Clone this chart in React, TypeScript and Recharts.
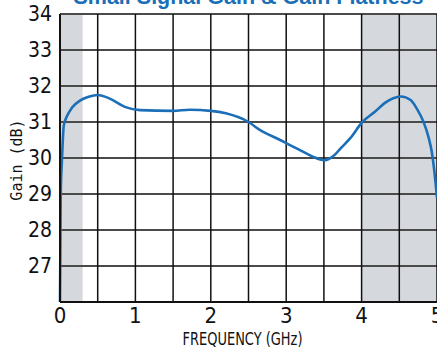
import { LineChart, Line, XAxis, YAxis, CartesianGrid, ReferenceArea, Label } from "recharts";

const freqGHz = [0, 0.01, 0.027, 0.05, 0.09, 0.16, 0.27, 0.38, 0.5, 0.66, 0.86, 1.06, 1.5, 1.72, 2.0, 2.2, 2.5, 2.65, 2.92, 3.05, 3.2, 3.36, 3.45, 3.51, 3.57, 3.65, 3.71, 3.85, 4.01, 4.18, 4.31, 4.42, 4.52, 4.65, 4.73, 4.82, 4.89, 4.93, 4.96, 5.0];
const gainDb = [26, 29, 30, 30.9, 31.15, 31.4, 31.6, 31.7, 31.75, 31.65, 31.42, 31.33, 31.31, 31.34, 31.31, 31.24, 31.0, 30.78, 30.5, 30.36, 30.2, 30.03, 29.96, 29.94, 29.98, 30.1, 30.24, 30.55, 31.0, 31.29, 31.53, 31.66, 31.71, 31.61, 31.38, 31.01, 30.56, 30.18, 29.72, 28.9];

const xTicks = [0, 0.5, 1, 1.5, 2, 2.5, 3, 3.5, 4, 4.5, 5];
const yTicks = [26, 27, 28, 29, 30, 31, 32, 33, 34];
const shadedBands = [
  { from: 0, to: 0.3 },
  { from: 4, to: 5 },
];

const TITLE = "Small Signal Gain & Gain Flatness";
const BLUE = "#1b6fb8";
const NARROW = "'Liberation Sans Narrow', 'DejaVu Sans Condensed', 'Liberation Sans', sans-serif";

const data = freqGHz.map((f, i) => ({ f, gain: gainDb[i] }));

export default function App() {
  return (
    <div style={{ position: "fixed", left: 0, top: 0, width: 437, height: 349, overflow: "hidden", background: "#fff" }}>
      <div
        style={{
          position: "absolute",
          left: 60,
          width: 377,
          top: -13,
          textAlign: "center",
          fontFamily: "'Liberation Sans', Arial, sans-serif",
          fontWeight: "bold",
          fontSize: 21.5,
          lineHeight: "1",
          color: BLUE,
          whiteSpace: "nowrap",
        }}
      >
        {TITLE}
      </div>
      <div style={{ position: "absolute", left: 0, top: 0 }}>
        <LineChart width={460} height={349} data={data} margin={{ top: 14, right: 23, bottom: 0, left: 0 }}>
          {shadedBands.map((b) => (
            <ReferenceArea key={b.from} x1={b.from} x2={b.to} fill="#d5d8dc" fillOpacity={1} stroke="none" zIndex={-200} />
          ))}
          <CartesianGrid vertical={false} stroke="#4a4a4a" strokeWidth={2} />
          <CartesianGrid horizontal={false} stroke="#111" strokeWidth={1.5} />
          <XAxis
            dataKey="f"
            type="number"
            domain={[0, 5]}
            ticks={xTicks}
            tickFormatter={(v: number) => (Number.isInteger(v) ? String(v) : "")}
            height={47}
            tickSize={0}
            tickMargin={5}
            axisLine={{ stroke: "#111", strokeWidth: 2 }}
            tick={{ fill: "#111", fontSize: 22, fontFamily: NARROW }}
            interval={0}
          >
            <Label
              content={({ viewBox }: any) => (
                <text
                  x={viewBox.x + viewBox.width / 2 - 6}
                  y={viewBox.y + 43}
                  textAnchor="middle"
                  fill="#111"
                  fontSize={17}
                  fontFamily={NARROW}
                  textLength={120}
                  lengthAdjust="spacingAndGlyphs"
                >
                  FREQUENCY (GHz)
                </text>
              )}
            />
          </XAxis>
          <YAxis
            type="number"
            domain={[26, 34]}
            ticks={yTicks}
            tickFormatter={(v: number) => (v === 26 ? "" : String(v))}
            width={60}
            tickSize={0}
            tickMargin={8}
            axisLine={{ stroke: "#111", strokeWidth: 2 }}
            tick={{ fill: "#111", fontSize: 21, fontFamily: NARROW }}
            interval={0}
          >
            <Label
              content={({ viewBox }: any) => {
                const cx = 17;
                const cy = viewBox.y + viewBox.height / 2 + 2;
                return (
                  <text
                    x={cx}
                    y={cy}
                    transform={`rotate(-90 ${cx} ${cy})`}
                    textAnchor="middle"
                    dominantBaseline="central"
                    fill="#111"
                    fontSize={15}
                    fontFamily="'DejaVu Sans Mono', monospace"
                  >
                    Gain (dB)
                  </text>
                );
              }}
            />
          </YAxis>
          <Line
            type="monotone"
            dataKey="gain"
            stroke={BLUE}
            strokeWidth={2.6}
            dot={false}
            isAnimationActive={false}
          />
        </LineChart>
      </div>
    </div>
  );
}
